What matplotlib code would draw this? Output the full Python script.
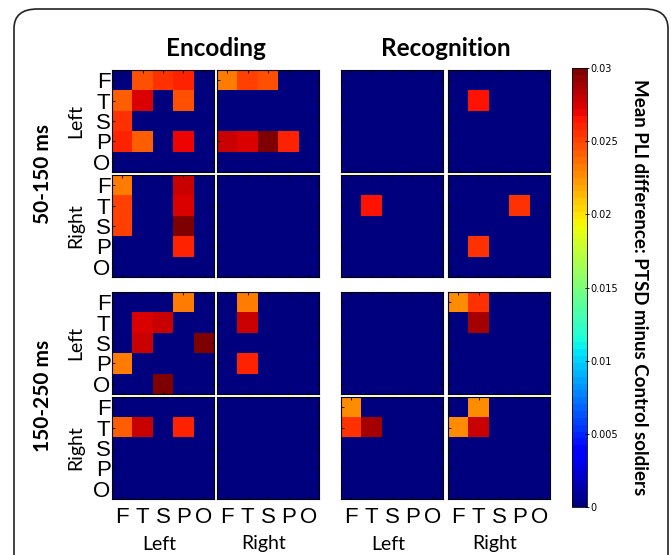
import matplotlib.pyplot as plt
from matplotlib.patches import FancyBboxPatch

regions = ['F', 'T', 'S', 'P', 'O']
hemis = ['Left', 'Right']
conditions = ['Encoding', 'Recognition']
windows = ['50-150 ms', '150-250 ms']

# 5x5 matrices, rows/cols = F T S P O ; names: condition_window_rowhemi+colhemi
enc_early_LL = [[0, 0.0246, 0.0255, 0.026, 0],
                [0.024, 0.0276, 0, 0.0248, 0],
                [0.0255, 0, 0, 0, 0],
                [0.0258, 0.024, 0, 0.027, 0],
                [0, 0, 0, 0, 0]]
enc_early_LR = [[0.0233, 0.025, 0.0246, 0, 0],
                [0, 0, 0, 0, 0],
                [0, 0, 0, 0, 0],
                [0.028, 0.0275, 0.0298, 0.0258, 0],
                [0, 0, 0, 0, 0]]
enc_early_RL = [[0.0233, 0, 0, 0.028, 0],
                [0.025, 0, 0, 0.0275, 0],
                [0.025, 0, 0, 0.0298, 0],
                [0, 0, 0, 0.0258, 0],
                [0, 0, 0, 0, 0]]
enc_early_RR = [[0] * 5 for _ in range(5)]

rec_early_LL = [[0] * 5 for _ in range(5)]
rec_early_LR = [[0, 0, 0, 0, 0],
                [0, 0.0265, 0, 0, 0],
                [0, 0, 0, 0, 0],
                [0, 0, 0, 0, 0],
                [0, 0, 0, 0, 0]]
rec_early_RL = [[0, 0, 0, 0, 0],
                [0, 0.0265, 0, 0, 0],
                [0, 0, 0, 0, 0],
                [0, 0, 0, 0, 0],
                [0, 0, 0, 0, 0]]
rec_early_RR = [[0, 0, 0, 0, 0],
                [0, 0, 0, 0.0255, 0],
                [0, 0, 0, 0, 0],
                [0, 0.0255, 0, 0, 0],
                [0, 0, 0, 0, 0]]

enc_late_LL = [[0, 0, 0, 0.0233, 0],
               [0, 0.0272, 0.028, 0, 0],
               [0, 0.028, 0, 0, 0.0298],
               [0.023, 0, 0, 0, 0],
               [0, 0, 0.0298, 0, 0]]
enc_late_LR = [[0, 0.0233, 0, 0, 0],
               [0, 0.028, 0, 0, 0],
               [0, 0, 0, 0, 0],
               [0, 0.026, 0, 0, 0],
               [0, 0, 0, 0, 0]]
enc_late_RL = [[0, 0, 0, 0, 0],
               [0.024, 0.028, 0, 0.026, 0],
               [0, 0, 0, 0, 0],
               [0, 0, 0, 0, 0],
               [0, 0, 0, 0, 0]]
enc_late_RR = [[0] * 5 for _ in range(5)]

rec_late_LL = [[0] * 5 for _ in range(5)]
rec_late_LR = [[0.0225, 0.0255, 0, 0, 0],
               [0, 0.0288, 0, 0, 0],
               [0, 0, 0, 0, 0],
               [0, 0, 0, 0, 0],
               [0, 0, 0, 0, 0]]
rec_late_RL = [[0.0225, 0, 0, 0, 0],
               [0.0255, 0.0288, 0, 0, 0],
               [0, 0, 0, 0, 0],
               [0, 0, 0, 0, 0],
               [0, 0, 0, 0, 0]]
rec_late_RR = [[0, 0.0225, 0, 0, 0],
               [0.0225, 0.028, 0, 0, 0],
               [0, 0, 0, 0, 0],
               [0, 0, 0, 0, 0],
               [0, 0, 0, 0, 0]]

panels = {
    (0, 0): [[enc_early_LL, enc_early_LR], [enc_early_RL, enc_early_RR]],
    (0, 1): [[rec_early_LL, rec_early_LR], [rec_early_RL, rec_early_RR]],
    (1, 0): [[enc_late_LL, enc_late_LR], [enc_late_RL, enc_late_RR]],
    (1, 1): [[rec_late_LL, rec_late_LR], [rec_late_RL, rec_late_RR]],
}

W, H = 671, 555
fig = plt.figure(figsize=(W / 100, H / 100), dpi=100)
cmap = plt.get_cmap('jet', 64)
label_font = ['Lato', 'DejaVu Sans']
tick_font = ['Liberation Sans', 'DejaVu Sans']

# rounded outer frame (bottom runs off the image)
frame = FancyBboxPatch((14 / W, -60 / H), 654 / W, (H - 9 + 60) / H,
                       boxstyle='round,pad=0,rounding_size=0.035',
                       transform=fig.transFigure, fill=False, ec='#222222', lw=1.2)
fig.patches.append(frame)

col_left = [112, 217, 341, 448]
row_top = [70, 175, 292, 397]
size = 102


def px_axes(x, top, w, h):
    return fig.add_axes([x / W, 1 - (top + h) / H, w / W, h / H])


im = None
for (wi, ci), grid in panels.items():
    for r in range(2):
        for c in range(2):
            x = col_left[ci * 2 + c]
            top = row_top[wi * 2 + r]
            ax = px_axes(x, top, size, size)
            im = ax.imshow(grid[r][c], cmap=cmap, vmin=0, vmax=0.03,
                           interpolation='nearest', aspect='auto')
            ax.set_xticks(range(5))
            ax.set_yticks(range(5))
            ax.tick_params(direction='in', length=2, width=0.6, top=True, right=True,
                           colors='black', labelsize=16, pad=1)
            for s in ax.spines.values():
                s.set_linewidth(0.8)
            if ci == 0 and c == 0:
                ax.set_yticklabels(regions, family=tick_font)
            else:
                ax.set_yticklabels([])
            if wi == 1 and r == 1:
                ax.set_xticklabels(regions, family=tick_font)
                ax.tick_params(axis='x', pad=6)
            else:
                ax.set_xticklabels([])

# column titles
for ci, name in enumerate(conditions):
    xc = (col_left[ci * 2] + col_left[ci * 2 + 1] + size) / 2
    fig.text(xc / W, 1 - 48 / H, name, ha='center', va='center', fontsize=17.5,
             fontweight='bold', family=label_font)
    for c, hm in enumerate(hemis):
        xh = col_left[ci * 2 + c] + size / 2 - 4
        fig.text(xh / W, 1 - 544 / H, hm, ha='center', va='center', fontsize=14,
                 family=label_font)

# row labels
for wi, name in enumerate(windows):
    yc = (row_top[wi * 2] + row_top[wi * 2 + 1] + size) / 2
    fig.text(43 / W, 1 - yc / H, name, ha='center', va='center', rotation=90,
             fontsize=15, fontweight='bold', family=label_font)
    for r, hm in enumerate(hemis):
        yh = row_top[wi * 2 + r] + size / 2
        fig.text(76 / W, 1 - yh / H, hm, ha='center', va='center', rotation=90,
                 fontsize=14, family=label_font)

# colorbar
cax = px_axes(572, 68, 15, 439)
cb = fig.colorbar(im, cax=cax, ticks=[0, 0.005, 0.01, 0.015, 0.02, 0.025, 0.03])
cb.ax.set_yticklabels(['0', '0.005', '0.01', '0.015', '0.02', '0.025', '0.03'])
cb.ax.tick_params(labelsize=7, length=3, width=0.6, direction='inout', pad=1)
cb.outline.set_linewidth(0.6)
fig.text(640 / W, 1 - 287 / H, 'Mean PLI difference: PTSD minus Control soldiers',
         rotation=-90, ha='center', va='center', fontsize=13.5, fontweight='bold',
         family=label_font)

fig.savefig('out.png', dpi=100)
